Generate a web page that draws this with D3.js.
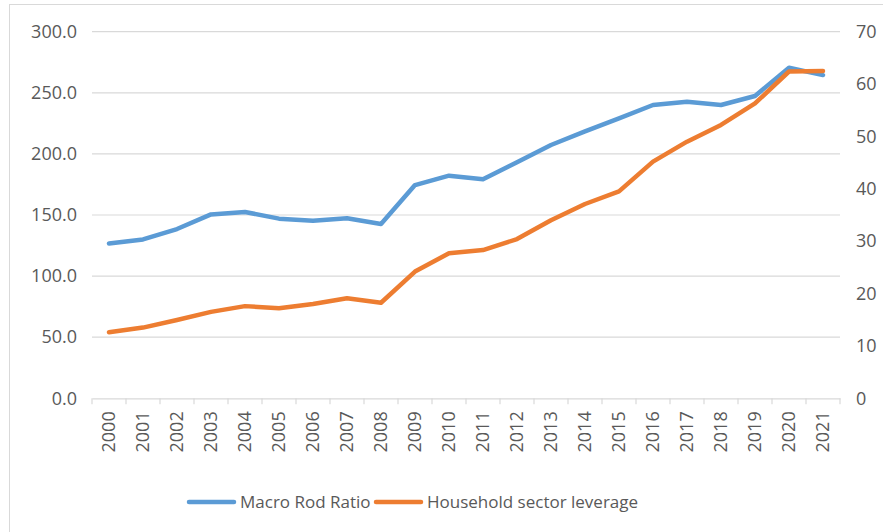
<!DOCTYPE html>
<html>
<head>
<meta charset="utf-8">
<script src="https://cdn.jsdelivr.net/npm/d3@7"></script>
<style>
  body { margin: 0; background: #fff; }
  text { font-family: "Open Sans", sans-serif; fill: #595959; }
</style>
</head>
<body>
<script>
// data
var years = ["2000","2001","2002","2003","2004","2005","2006","2007","2008","2009","2010",
             "2011","2012","2013","2014","2015","2016","2017","2018","2019","2020","2021"];
var macroRod = [126.7, 130, 138.5, 150.5, 152.5, 147, 145.3, 147.3, 142.6, 174.5, 182.2,
                179.2, 193.1, 207.3, 218.5, 229, 240, 242.7, 240, 247.4, 270.5, 264.5];
var household = [12.6, 13.5, 14.95, 16.5, 17.6, 17.2, 18.0, 19.1, 18.25, 24.2, 27.7,
                 28.3, 30.4, 34.0, 37.1, 39.5, 45.2, 49.0, 52.2, 56.3, 62.4, 62.5];
var leftTicks = [0, 50, 100, 150, 200, 250, 300];
var rightTicks = [0, 10, 20, 30, 40, 50, 60, 70];
var seriesNames = ["Macro Rod Ratio", "Household sector leverage"];
var colors = ["#5b9bd5", "#ed7d31"];

var width = 883, height = 532;
var plot = { left: 92, right: 840, top: 31.7, bottom: 398.3 };

var svg = d3.select("body").append("svg")
  .attr("width", width)
  .attr("height", height);

// chart frame
svg.append("rect")
  .attr("x", 9.5).attr("y", 4.5)
  .attr("width", 900).attr("height", 600)
  .attr("fill", "#fff")
  .attr("stroke", "#d9d9d9");

var x = d3.scaleBand().domain(years).range([plot.left, plot.right]);
var yL = d3.scaleLinear().domain([0, 300]).range([plot.bottom, plot.top]);
var yR = d3.scaleLinear().domain([0, 70]).range([plot.bottom, plot.top]);

// gridlines
svg.append("g")
  .selectAll("line")
  .data(leftTicks.slice(1))
  .enter().append("line")
  .attr("x1", plot.left).attr("x2", plot.right)
  .attr("y1", function (d) { return yL(d); })
  .attr("y2", function (d) { return yL(d); })
  .attr("stroke", "#d9d9d9")
  .attr("stroke-width", 1.2);

// left axis labels
var gL = svg.append("g")
  .attr("transform", "translate(" + (plot.left) + ",0)")
  .call(d3.axisLeft(yL).tickValues(leftTicks).tickSize(0).tickPadding(15)
    .tickFormat(d3.format(".1f")));
gL.select(".domain").remove();
gL.selectAll("text").attr("font-size", "18px").attr("fill", "#595959")
  .style("font-family", "Open Sans, sans-serif");

// right axis labels
var gR = svg.append("g")
  .attr("transform", "translate(" + (plot.right) + ",0)")
  .call(d3.axisRight(yR).tickValues(rightTicks).tickSize(0).tickPadding(16));
gR.select(".domain").remove();
gR.selectAll("text").attr("font-size", "18px").attr("fill", "#595959")
  .style("font-family", "Open Sans, sans-serif");

// x axis
var gX = svg.append("g")
  .attr("transform", "translate(0," + plot.bottom + ")")
  .call(d3.axisBottom(x).tickSize(0).tickPadding(0));
gX.select(".domain").attr("stroke", "#d9d9d9").attr("stroke-width", 1.2);
gX.selectAll("text")
  .attr("font-size", "18px")
  .attr("fill", "#595959")
  .style("font-family", "Open Sans, sans-serif")
  .attr("text-anchor", "end")
  .attr("transform", "rotate(-90)")
  .attr("x", -13)
  .attr("y", 0)
  .attr("dy", "0.35em");

// boundary ticks
var edges = years.map(function (d) { return x(d); }).concat([plot.right]);
svg.append("g")
  .selectAll("line")
  .data(edges)
  .enter().append("line")
  .attr("x1", function (d) { return d; })
  .attr("x2", function (d) { return d; })
  .attr("y1", plot.bottom)
  .attr("y2", plot.bottom + 6)
  .attr("stroke", "#d9d9d9")
  .attr("stroke-width", 1.2);

// lines
var lineL = d3.line()
  .x(function (d, i) { return x(years[i]) + x.bandwidth() / 2; })
  .y(function (d) { return yL(d); });
var lineR = d3.line()
  .x(function (d, i) { return x(years[i]) + x.bandwidth() / 2; })
  .y(function (d) { return yR(d); });

svg.append("path")
  .datum(macroRod)
  .attr("d", lineL)
  .attr("fill", "none")
  .attr("stroke", colors[0])
  .attr("stroke-width", 4.5)
  .attr("stroke-linejoin", "round")
  .attr("stroke-linecap", "round");

svg.append("path")
  .datum(household)
  .attr("d", lineR)
  .attr("fill", "none")
  .attr("stroke", colors[1])
  .attr("stroke-width", 4.5)
  .attr("stroke-linejoin", "round")
  .attr("stroke-linecap", "round");

// legend
var legendX = [189, 376];
var legend = svg.append("g");
seriesNames.forEach(function (name, i) {
  legend.append("line")
    .attr("x1", legendX[i]).attr("x2", legendX[i] + 45)
    .attr("y1", 502).attr("y2", 502)
    .attr("stroke", colors[i])
    .attr("stroke-width", 4.5)
    .attr("stroke-linecap", "round");
  legend.append("text")
    .attr("x", legendX[i] + 51)
    .attr("y", 502)
    .attr("dy", "0.35em")
    .attr("font-size", "17px")
    .text(name);
});
</script>
</body>
</html>
